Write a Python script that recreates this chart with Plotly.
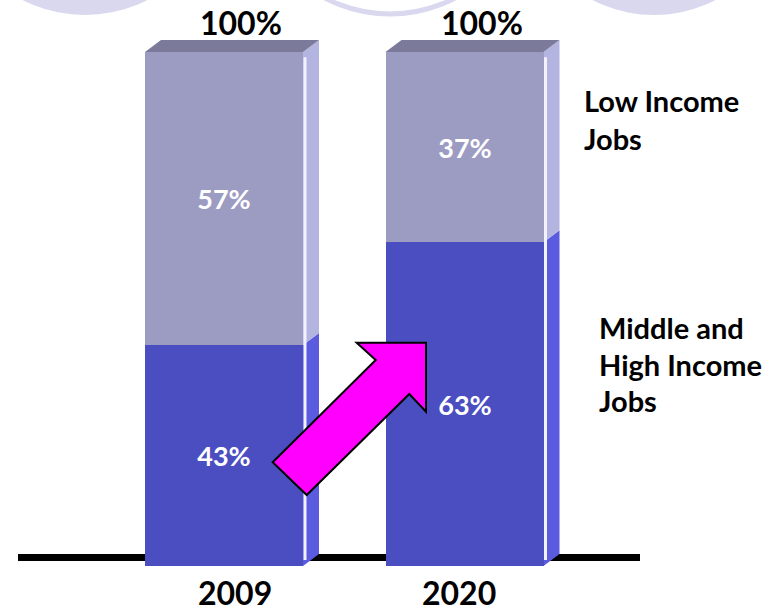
import plotly.graph_objects as go

# ---- data -------------------------------------------------------------
years = ["2009", "2020"]
series_names = ["Middle and<br>High Income<br>Jobs", "Low Income<br>Jobs"]
middle_high_share = [43, 63]
low_share = [57, 37]

# ---- canvas / scale helpers (pixel <-> data) --------------------------
W, H = 778, 615
X0_PIX, PX_PER_X = 224.0, 240.5      # x=0 sits at pixel 224, 1 unit = 240.5 px
Y0_PIX, PX_PER_Y = 566.0, 5.14       # y=0 sits at pixel 566, 1 unit = 5.14 px

def xd(p):
    return (p - X0_PIX) / PX_PER_X

def yd(p):
    return (Y0_PIX - p) / PX_PER_Y

BAR_W = 158 / PX_PER_X
DEPTH_X = 16 / PX_PER_X   # 3-D depth offset
DEPTH_Y = 12 / PX_PER_Y

FONT = "Lato"
FRONT = ["#4B4EC1", "#9C9CC3"]
SIDE = ["#5B5BDF", "#B4B4E1"]
TOP = "#7B7A9A"
RING = "#D9D8EE"

x_pos = list(range(len(years)))
stack = [middle_high_share, low_share]

fig = go.Figure()
for i, vals in enumerate(stack):
    fig.add_trace(go.Bar(
        x=x_pos, y=vals, width=BAR_W,
        marker=dict(color=FRONT[i], line=dict(width=0)),
        text=[f"{v}%" for v in vals], textposition="inside",
        insidetextanchor="middle", constraintext="none",
        textfont=dict(family=FONT, size=27, color="white", weight="bold"),
        name=series_names[i].replace("<br>", " "), showlegend=False,
        hoverinfo="skip",
    ))

shapes = []

def poly(pts, color, layer="below", line=None):
    path = "M " + " L ".join(f"{x},{y}" for x, y in pts) + " Z"
    return dict(type="path", path=path, xref="x", yref="y",
                fillcolor=color, line=line or dict(width=0), layer=layer)

# decorative circles along the top edge
for cx, cy, r, filled in [(85, -123, 138, True), (390, -126, 140, False),
                          (654, -119, 134, True)]:
    shapes.append(dict(type="circle", xref="x", yref="y",
                       x0=xd(cx - r), x1=xd(cx + r), y0=yd(cy + r), y1=yd(cy - r),
                       fillcolor=RING if filled else "white",
                       line=dict(color=RING, width=0 if filled else 5),
                       layer="below"))

# ground line
shapes.append(dict(type="line", xref="x", yref="y",
                   x0=xd(18), x1=xd(640), y0=yd(557.5), y1=yd(557.5),
                   line=dict(color="black", width=7), layer="below"))

# side and top faces of each stacked column
for j, xc in enumerate(x_pos):
    xl, xr = xc - BAR_W / 2, xc + BAR_W / 2
    base = 0
    for i, vals in enumerate(stack):
        y0, y1 = base, base + vals[j]
        shapes.append(poly([(xr, y0), (xr + DEPTH_X, y0 + DEPTH_Y),
                            (xr + DEPTH_X, y1 + DEPTH_Y), (xr, y1)], SIDE[i]))
        base = y1
    shapes.append(poly([(xl, base), (xl + DEPTH_X, base + DEPTH_Y),
                        (xr + DEPTH_X, base + DEPTH_Y), (xr, base)], TOP))
    # light edge between front and side
    shapes.append(dict(type="line", xref="x", yref="y",
                       x0=xr + 2 / PX_PER_X, x1=xr + 2 / PX_PER_X,
                       y0=yd(560), y1=base - 1,
                       line=dict(color="#F2F2FF", width=3), layer="below"))

# magenta growth arrow
arrow_px = [(272.7, 462.3), (375.7, 360), (356.7, 342.7), (426, 342.7),
            (426, 411.7), (409.3, 394), (306.7, 495)]
shapes.append(poly([(xd(x), yd(y)) for x, y in arrow_px], "#FF00FF",
                   layer="above", line=dict(color="black", width=2)))

annotations = []
totals = [a + b for a, b in zip(middle_high_share, low_share)]
for j, xc in enumerate(x_pos):
    annotations.append(dict(x=xc, y=totals[j] + DEPTH_Y, xref="x", yref="y",
                            text=f"{totals[j]}%", showarrow=False,
                            xanchor="center", yanchor="bottom", xshift=17, yshift=-4,
                            font=dict(family=FONT, size=32, color="black", weight="bold")))
year_shift = [11, -6]
for j, xc in enumerate(x_pos):
    annotations.append(dict(x=xc, y=yd(H), xref="x", yref="y",
                            text=years[j], showarrow=False, xshift=year_shift[j],
                            xanchor="center", yanchor="bottom", yshift=1,
                            font=dict(family=FONT, size=32, color="black", weight="bold")))

# series labels at the right
label_pos = [(597, [327, 364, 401]), (582, [100, 138])]
for name, (lx, rows) in zip(series_names, label_pos):
    for line_text, ly in zip(name.split("<br>"), rows):
        annotations.append(dict(x=lx / W, y=1 - ly / H, xref="paper", yref="paper",
                                text=line_text, showarrow=False,
                                xanchor="left", yanchor="middle",
                                font=dict(family=FONT, size=29, color="black", weight="bold")))

fig.update_layout(
    width=W, height=H, margin=dict(l=0, r=0, t=0, b=0),
    paper_bgcolor="white", plot_bgcolor="white",
    barmode="stack", bargap=0,
    xaxis=dict(range=[xd(0), xd(W)], visible=False, fixedrange=True),
    yaxis=dict(range=[yd(H), yd(0)], visible=False, fixedrange=True),
    shapes=shapes, annotations=annotations,
)

fig.write_html("out.html")
